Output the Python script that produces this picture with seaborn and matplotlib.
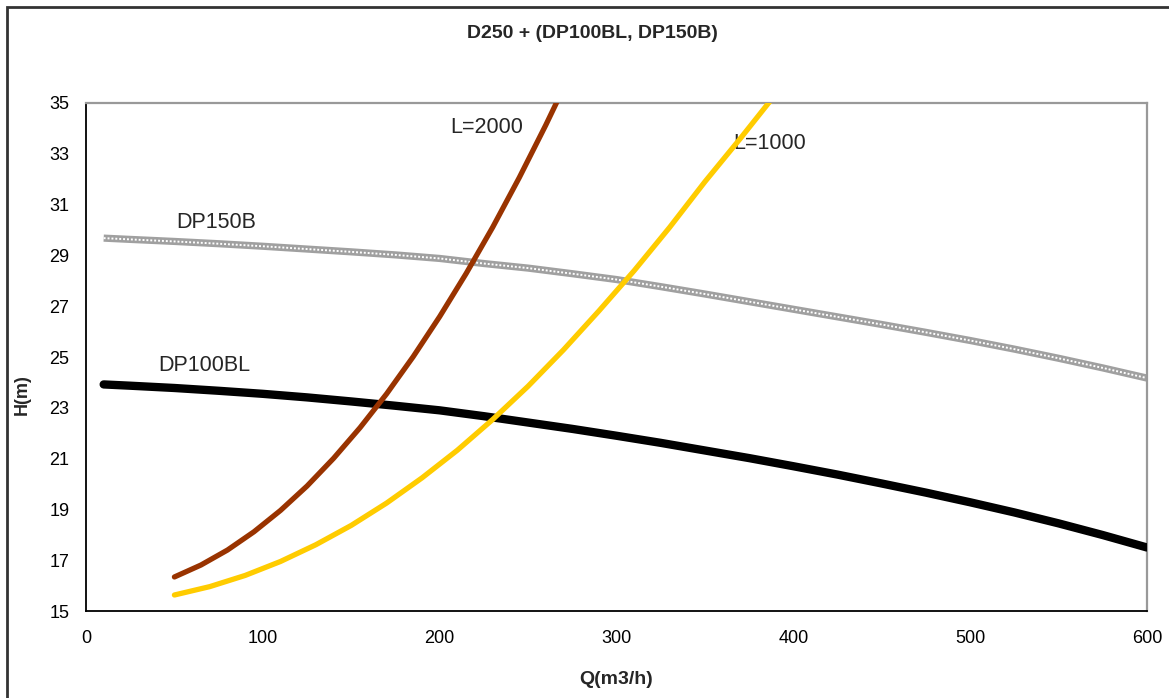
import numpy as np
import pandas as pd
import matplotlib
matplotlib.use("Agg")
import matplotlib.pyplot as plt
import seaborn as sns
from matplotlib.patches import Rectangle

# Pump curves
q_dp100bl = [10, 25, 50, 75, 100, 125, 150, 175, 200, 225, 250, 275, 300,
             325, 350, 375, 400, 425, 450, 475, 500, 525, 550, 575, 600]
h_dp100bl = [23.92, 23.87, 23.78, 23.67, 23.55, 23.41, 23.25, 23.08, 22.90, 22.67,
             22.42, 22.17, 21.90, 21.62, 21.32, 21.02, 20.70, 20.37, 20.02, 19.66,
             19.28, 18.88, 18.45, 17.99, 17.50]

q_dp150b = [10, 25, 50, 75, 100, 125, 150, 175, 200, 225, 250, 275, 300,
            325, 350, 375, 400, 425, 450, 475, 500, 525, 550, 575, 600]
h_dp150b = [29.68, 29.63, 29.55, 29.46, 29.36, 29.25, 29.14, 29.02, 28.88, 28.68,
            28.50, 28.28, 28.05, 27.77, 27.48, 27.18, 26.88, 26.58, 26.28, 25.97,
            25.65, 25.31, 24.95, 24.57, 24.17]

# System curves for pipe length L
q_l1000 = [50, 70, 90, 110, 130, 150, 170, 190, 210, 230, 250, 270, 290, 310, 330, 350, 370, 390]
h_l1000 = [15.63, 15.96, 16.40, 16.95, 17.61, 18.37, 19.25, 20.24, 21.33, 22.54,
           23.85, 25.28, 26.81, 28.40, 30.10, 31.90, 33.60, 35.35]

q_l2000 = [50, 65, 80, 95, 110, 125, 140, 155, 170, 185, 200, 215, 230, 245, 260, 270]
h_l2000 = [16.34, 16.81, 17.40, 18.12, 18.96, 19.92, 21.01, 22.22, 23.55, 25.01,
           26.59, 28.29, 30.11, 32.06, 34.13, 35.58]

x_ticks = [0, 100, 200, 300, 400, 500, 600]
y_ticks = [15, 17, 19, 21, 23, 25, 27, 29, 31, 33, 35]

title = "D250 + (DP100BL, DP150B)"
x_label = "Q(m3/h)"
y_label = "H(m)"

sns.set_style("white")
plt.rcParams["font.family"] = ["Liberation Sans", "DejaVu Sans"]

fig = plt.figure(figsize=(11.69, 6.98), dpi=100)
ax = fig.add_axes([86 / 1169, 1 - 611 / 698, (1147 - 86) / 1169, (611 - 103) / 698])

df_dp100 = pd.DataFrame({"Q": q_dp100bl, "H": h_dp100bl})
df_dp150 = pd.DataFrame({"Q": q_dp150b, "H": h_dp150b})
df_l1000 = pd.DataFrame({"Q": q_l1000, "H": h_l1000})
df_l2000 = pd.DataFrame({"Q": q_l2000, "H": h_l2000})

# DP150B: light dotted grey band
sns.lineplot(data=df_dp150, x="Q", y="H", ax=ax, color="#a0a0a0", linewidth=5.2,
             solid_capstyle="butt", zorder=2)
sns.lineplot(data=df_dp150, x="Q", y="H", ax=ax, color="white", linewidth=1.4,
             linestyle=(0, (1.0, 1.0)), zorder=2.1)

sns.lineplot(data=df_dp100, x="Q", y="H", ax=ax, color="black", linewidth=6.0,
             solid_capstyle="round", zorder=3)
sns.lineplot(data=df_l2000, x="Q", y="H", ax=ax, color="#993300", linewidth=3.8, zorder=4)
sns.lineplot(data=df_l1000, x="Q", y="H", ax=ax, color="#FFCC00", linewidth=3.8, zorder=4)

ax.set_xlim(0, 600)
ax.set_ylim(15, 35)
ax.set_xticks(x_ticks)
ax.set_yticks(y_ticks)
ax.set_xlabel("")
ax.set_ylabel("")
ax.tick_params(axis="both", direction="out", length=6, width=1.2, color="black",
               labelsize=13, labelcolor="black")
ax.tick_params(axis="x", pad=8)
ax.tick_params(axis="y", pad=6)

for side in ("left", "bottom"):
    ax.spines[side].set_color("black")
    ax.spines[side].set_linewidth(1.3)
for side in ("top", "right"):
    ax.spines[side].set_color("#999999")
    ax.spines[side].set_linewidth(1.6)

# Curve labels
ax.text(206, 34.05, "L=2000", fontsize=15.5, va="center", ha="left")
ax.text(366, 33.4, "L=1000", fontsize=15.5, va="center", ha="left")
ax.text(51, 30.3, "DP150B", fontsize=15.5, va="center", ha="left")
ax.text(41, 24.65, "DP100BL", fontsize=15.5, va="center", ha="left")

fig.text(592 / 1169, 1 - 33 / 698, title, fontsize=14, fontweight="bold",
         ha="center", va="center")
fig.text(616 / 1169, 1 - 680 / 698, x_label, fontsize=14, fontweight="bold",
         ha="center", va="center")
fig.text(22 / 1169, 1 - 395 / 698, y_label, fontsize=13, fontweight="bold",
         ha="center", va="center", rotation=90)

# Outer chart frame
fig.patches.append(Rectangle((7 / 1169, -0.05), 1.2, 1 - 7 / 698 + 0.05,
                             transform=fig.transFigure, fill=False,
                             edgecolor="#333333", linewidth=2.0))

fig.savefig("out.png", dpi=100, facecolor="white")
